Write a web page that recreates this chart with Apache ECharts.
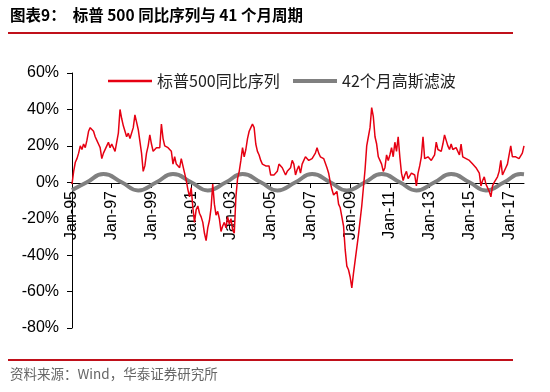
<!DOCTYPE html>
<html>
<head>
<meta charset="utf-8">
<script src="https://cdn.jsdelivr.net/npm/echarts@6/dist/echarts.min.js"></script>
<style>
    html, body { margin: 0; padding: 0; background: #fff; }
    #container { width: 550px; height: 392px; }
</style>
</head>
<body>
<div id="container"></div>
<script>
// S&P 500 yoy, monthly, Jan-95 .. Oct-17 (%)
const spxYoy = [
    -1, 6, 11, 13, 16, 20, 18, 21, 19, 23, 28, 30,          // 1995
    30, 28, 25, 23, 21, 19, 13, 16, 17, 20, 22, 19,         // 1996
    21, 20, 17, 22, 27, 40, 35, 31, 28, 25, 27, 24,         // 1997
    25, 30, 37, 33, 29, 28, 16, 6, 9, 16, 20, 26,           // 1998
    21, 17, 17, 19, 18, 19, 32, 24, 20, 21, 19, 18,         // 1999
    17, 10, 14, 10, 11, 8, 13, 14, 5, 1, -4, -8,            // 2000
    -3, -14, -22, -15, -13, -17, -19, -22, -28, -32, -25, -21, // 2001
    -14, -1, -12, -18, -16, -20, -27, -24, -22, -25, -19, -23, // 2002
    -20, -26, -28, -8, 2, 6, 12, 19, 14, 18, 24, 28,        // 2003
    30, 32, 30, 21, 17, 15, 12, 10, 11, 9, 10, 9,           // 2004
    4, 5, 4, 5, 6, 10, 11, 8, 9, 4, 6, 5,                   // 2005
    8, 12, 10, 4, 7, 9, 5, 10, 12, 14, 13, 12,              // 2006
    11, 13, 12, 16, 19, 16, 14, 14, 13, 12, 8, 5,           // 2007
    0, -4, -7, -6, -5, -12, -14, -13, -24, -37, -46, -48,   // 2008
    -52, -58, -50, -43, -36, -29, -21, -13, -3, 7, 20, 25,  // 2009
    30, 41, 36, 25, 21, 14, 12, 10, 6, 8, 15, 12,           // 2010
    15, 19, 14, 22, 17, 25, 14, 5, 1, 4, 6, 2,              // 2011
    3, 5, 6, 4, -2, 5, 9, 14, 25, 13, 13, 14,               // 2012
    14, 12, 12, 15, 22, 18, 19, 17, 21, 26, 23, 20,         // 2013
    18, 21, 18, 17, 19, 20, 15, 21, 14, 15, 13, 12,         // 2014
    12, 11, 10, 9, 8, 7, 5, -2, 1, 3, -1, -3,               // 2015
    -5, -8, -2, 0, 1, 3, 6, 12, 4, 3, 8, 10,                // 2016
    15, 20, 14, 14, 14, 13, 13, 14, 16, 20                  // 2017
];

// 42-month gaussian filter: peaks, zero crossings and troughs (month index, %)
const gaussMonths = [0, 9, 19, 30, 40, 51, 61, 72, 82, 93, 103, 114, 124, 135, 145,
    156, 166, 177, 187, 198, 208, 219, 229, 240, 250, 261, 271, 273];
const gaussValues = [-4.3, 0, 4.5, 0, -4.5, 0, 4.5, 0, -4.5, 0, 4.5, 0, -4.5, 0, 4.5,
    0, -4.5, 0, 4.5, 0, -4.5, 0, 4.5, 0, -4.5, 0, 4.5, 4.4];

const tickLabels = ['Jan-95', 'Jan-97', 'Jan-99', 'Jan-01', 'Jan-03', 'Jan-05',
    'Jan-07', 'Jan-09', 'Jan-11', 'Jan-13', 'Jan-15', 'Jan-17'];

const monthNames = ['Jan', 'Feb', 'Mar', 'Apr', 'May', 'Jun', 'Jul', 'Aug', 'Sep', 'Oct', 'Nov', 'Dec'];
let categories = [];
for (let i = 0; i < spxYoy.length; i++) {
    let yy = (95 + Math.floor(i / 12)) % 100;
    categories.push(monthNames[i % 12] + '-' + String(yy).padStart(2, '0'));
}

let gaussData = gaussMonths.map((m, i) => [m, gaussValues[i]]);

let myChart = echarts.init(document.getElementById('container'));

const isTick = (i) => tickLabels.indexOf(categories[i]) >= 0;
const legendText = { fontSize: 16, color: '#222', fontFamily: '"Noto Sans CJK SC", sans-serif' };

let option = {
    animation: false,
    graphic: [
        {
            type: 'text', left: 10, top: 7,
            style: {
                text: '图表9：  标普 500 同比序列与 41 个月周期',
                font: 'bold 15.5px "Noto Sans CJK SC", sans-serif',
                fill: '#000'
            }
        },
        {
            type: 'line',
            shape: { x1: 8, y1: 33, x2: 513, y2: 33 },
            style: { stroke: '#c0101a', lineWidth: 2 }
        },
        {
            type: 'line',
            shape: { x1: 8, y1: 360, x2: 513, y2: 360 },
            style: { stroke: '#c0101a', lineWidth: 2 }
        },
        {
            type: 'text', left: 10, top: 367,
            style: {
                text: '资料来源：Wind，华泰证券研究所',
                font: '13.5px "Noto Sans CJK SC", sans-serif',
                fill: '#666'
            }
        }
    ],
    legend: [
        {
            left: 103, top: 68,
            icon: 'rect', itemWidth: 44, itemHeight: 2.5,
            data: ['标普500同比序列'],
            textStyle: legendText
        },
        {
            left: 288, top: 68,
            icon: 'rect', itemWidth: 44, itemHeight: 4,
            data: ['42个月高斯滤波'],
            textStyle: legendText
        }
    ],
    grid: { left: 72, right: 26, top: 73, bottom: 64 },
    xAxis: {
        type: 'category',
        data: categories,
        boundaryGap: false,
        offset: -145,
        axisLine: { onZero: false, lineStyle: { color: '#000', width: 1 } },
        axisTick: { interval: isTick, length: 5, lineStyle: { color: '#000' } },
        axisLabel: {
            interval: isTick,
            rotate: 90,
            margin: 8,
            fontSize: 16,
            color: '#000',
            fontFamily: '"Liberation Sans", Arial, sans-serif'
        }
    },
    yAxis: {
        type: 'value',
        min: -80,
        max: 60,
        interval: 20,
        splitLine: { show: false },
        axisLine: { show: true, lineStyle: { color: '#000', width: 1 } },
        axisTick: { show: true, length: 5, lineStyle: { color: '#000' } },
        axisLabel: {
            formatter: '{value}%',
            fontSize: 16,
            color: '#000',
            margin: 13,
            fontFamily: '"Liberation Sans", Arial, sans-serif'
        }
    },
    series: [
        {
            name: '42个月高斯滤波',
            type: 'line',
            data: gaussData,
            smooth: true,
            symbol: 'none',
            lineStyle: { color: '#808080', width: 4 },
            itemStyle: { color: '#808080' }
        },
        {
            name: '标普500同比序列',
            type: 'line',
            data: spxYoy,
            symbol: 'none',
            lineStyle: { color: '#e60012', width: 1.5 },
            itemStyle: { color: '#e60012' }
        }
    ]
};
myChart.setOption(option);
</script>
</body>
</html>
